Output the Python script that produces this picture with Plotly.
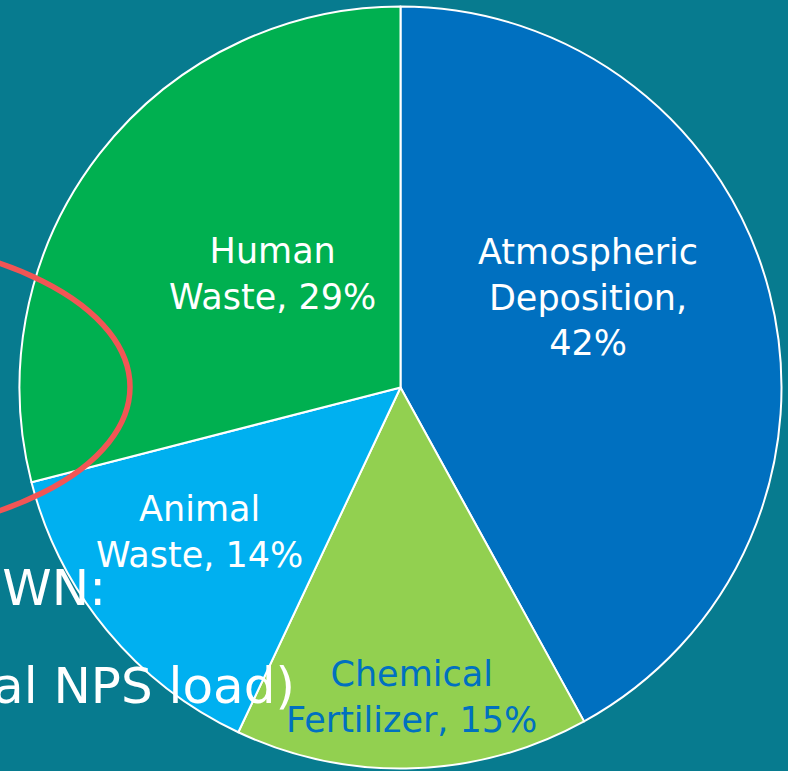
import plotly.graph_objects as go

W, H = 788, 771

# Data
sources = ["Atmospheric Deposition", "Chemical Fertilizer", "Animal Waste", "Human Waste"]
shares = [42, 15, 14, 29]
colors = ["#0070C0", "#92D050", "#00B0F0", "#00B050"]
label_text = ["Atmospheric<br>Deposition,<br>42%", "Chemical<br>Fertilizer, 15%",
              "Animal<br>Waste, 14%", "Human<br>Waste, 29%"]
label_colors = ["white", "#0070C0", "white", "white"]
label_pos_px = [(588, 297), (411, 697), (199, 532), (272, 274)]

BG = "#077B8F"
FONT = "DejaVu Sans"

def px(x, y):
    return x / W, 1 - y / H

cx, cy, r = 400.5, 387.5, 381
fig = go.Figure(go.Pie(
    labels=sources, values=shares, sort=False, direction="clockwise", rotation=0,
    marker=dict(colors=colors, line=dict(color="white", width=2)),
    textinfo="none", hoverinfo="label+percent", showlegend=False,
    domain=dict(x=[(cx - r) / W, (cx + r) / W], y=[1 - (cy + r) / H, 1 - (cy - r) / H]),
))

annotations = []
for t, c, (x, y) in zip(label_text, label_colors, label_pos_px):
    ax, ay = px(x, y)
    annotations.append(dict(x=ax, y=ay, xref="paper", yref="paper", text=t, showarrow=False,
                            font=dict(family=FONT, size=35, color=c), align="center",
                            xanchor="center", yanchor="middle"))

# partially hidden slide text
for t, (x, y) in [("OWN:", (108, 588)), ("al NPS load)", (297, 686))]:
    ax, ay = px(x, y)
    annotations.append(dict(x=ax, y=ay, xref="paper", yref="paper", text=t, showarrow=False,
                            font=dict(family=FONT, size=50, color="white"),
                            xanchor="right", yanchor="middle"))

shapes = [dict(type="circle", xref="paper", yref="paper", layer="above",
               x0=-470 / W, x1=130 / W, y0=1 - 537 / H, y1=1 - 237 / H,
               line=dict(color="#F25555", width=5.5))]

fig.update_layout(
    width=W, height=H, margin=dict(l=0, r=0, t=0, b=0),
    paper_bgcolor=BG, plot_bgcolor=BG,
    annotations=annotations, shapes=shapes,
)
fig.write_html("out.html")
